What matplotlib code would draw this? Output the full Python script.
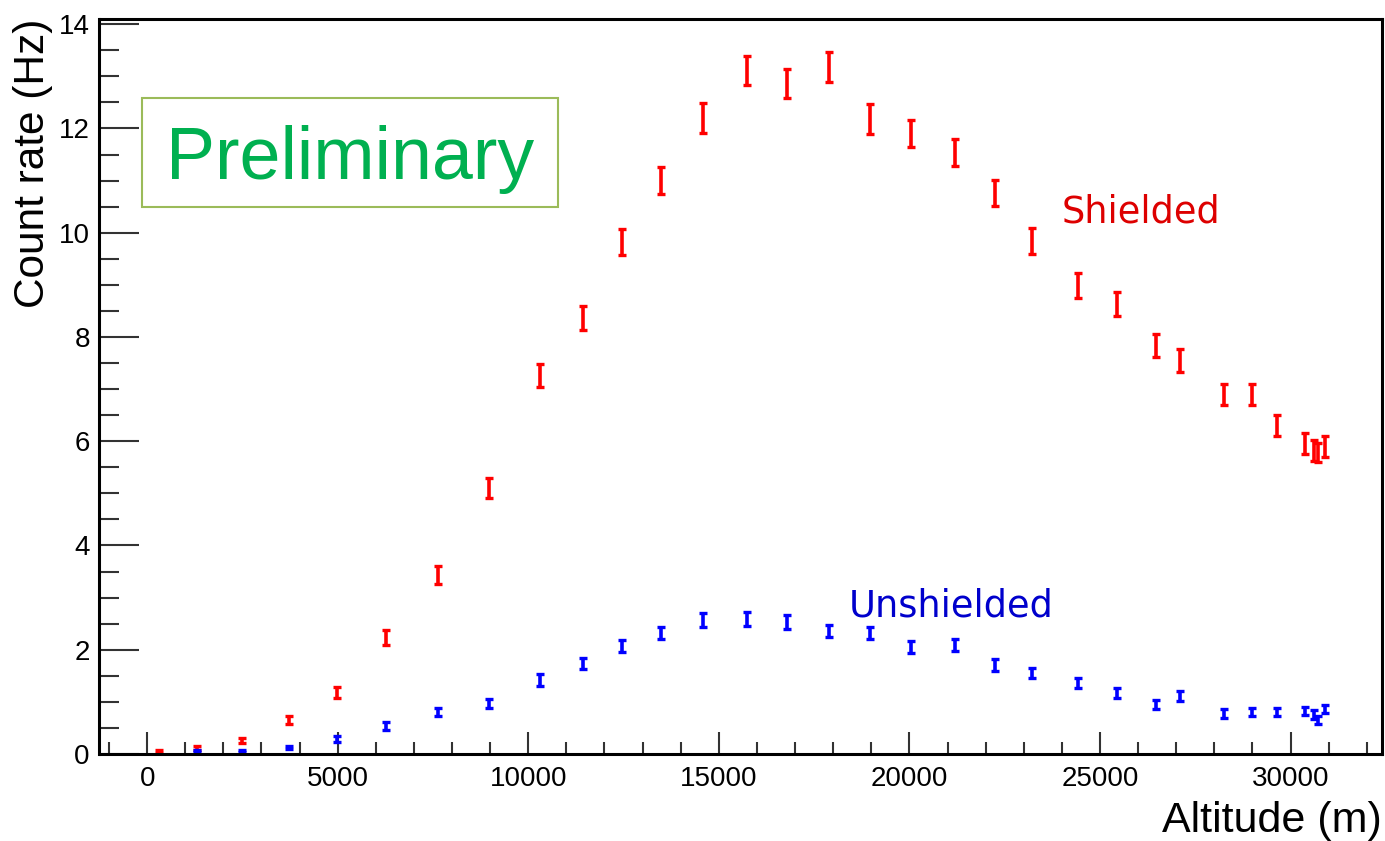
import matplotlib
matplotlib.use("Agg")
import matplotlib.pyplot as plt
from matplotlib.patches import Rectangle
from matplotlib.ticker import MultipleLocator

# Altitude of each measurement (m)
alt_shielded = [300, 1300, 2500, 3730, 4970, 6280, 7620, 8980, 10320, 11430,
                12450, 13470, 14575, 15730, 16780, 17880, 18960, 20030, 21190, 22240,
                23210, 24420, 25440, 26460, 27090, 28250, 28980, 29640, 30370, 30610,
                30710, 30900]
rate_shielded = [0.05, 0.12, 0.26, 0.65, 1.18, 2.24, 3.43, 5.10, 7.27, 8.36,
                 9.82, 11.01, 12.20, 13.11, 12.87, 13.18, 12.18, 11.90, 11.54, 10.77,
                 9.84, 8.98, 8.63, 7.84, 7.54, 6.89, 6.89, 6.31, 5.96, 5.83,
                 5.79, 5.90]
err_shielded = [0.03, 0.04, 0.055, 0.08, 0.11, 0.14, 0.17, 0.19, 0.22, 0.23,
                0.25, 0.26, 0.28, 0.28, 0.28, 0.28, 0.28, 0.26, 0.26, 0.25,
                0.25, 0.24, 0.23, 0.22, 0.22, 0.20, 0.20, 0.20, 0.20, 0.20,
                0.18, 0.20]

alt_unshielded = [1300, 2500, 3730, 4970, 6280, 7620, 8980, 10320, 11430,
                  12450, 13470, 14575, 15730, 16780, 17880, 18960, 20030, 21190, 22240,
                  23210, 24420, 25440, 26460, 27090, 28250, 28980, 29640, 30370, 30610,
                  30710, 30900]
rate_unshielded = [0.06, 0.06, 0.13, 0.29, 0.54, 0.80, 0.97, 1.42, 1.74,
                   2.07, 2.32, 2.57, 2.59, 2.53, 2.36, 2.32, 2.05, 2.09, 1.71,
                   1.55, 1.36, 1.17, 0.95, 1.11, 0.78, 0.81, 0.81, 0.82, 0.76,
                   0.65, 0.86]
err_unshielded = [0.02, 0.02, 0.03, 0.06, 0.08, 0.08, 0.09, 0.11, 0.11,
                  0.12, 0.12, 0.13, 0.13, 0.13, 0.12, 0.12, 0.12, 0.12, 0.11,
                  0.10, 0.10, 0.10, 0.08, 0.09, 0.08, 0.08, 0.08, 0.08, 0.08,
                  0.08, 0.08]

plt.rcParams['font.family'] = ['Liberation Sans', 'DejaVu Sans']

W, H = 1385, 841
fig = plt.figure(figsize=(W / 100, H / 100), dpi=100)
ax = fig.add_axes([99.5 / W, (H - 754) / H, 1282.5 / W, 735 / H])

ax.errorbar(alt_shielded, rate_shielded, yerr=err_shielded, fmt='none',
            ecolor='#ff0000', elinewidth=2.6, capsize=2.6, capthick=2.4)
ax.errorbar(alt_unshielded, rate_unshielded, yerr=err_unshielded, fmt='none',
            ecolor='#0000ff', elinewidth=2.6, capsize=2.6, capthick=2.4)

ax.set_xlim(-1250, 32400)
ax.set_ylim(0, 14.1)

# ROOT-like inward ticks, only on bottom and left
ax.xaxis.set_major_locator(MultipleLocator(5000))
ax.xaxis.set_minor_locator(MultipleLocator(1000))
ax.yaxis.set_major_locator(MultipleLocator(2))
ax.yaxis.set_minor_locator(MultipleLocator(0.5))
ax.tick_params(axis='x', which='major', direction='in', length=16, width=1.5,
               color='#333333', labelsize=20, pad=9)
ax.tick_params(axis='x', which='minor', direction='in', length=8.5, width=1.5,
               color='#333333')
ax.tick_params(axis='y', which='major', direction='in', length=29, width=1.5,
               color='#333333', labelsize=20, pad=7)
ax.tick_params(axis='y', which='minor', direction='in', length=14.5, width=1.5,
               color='#333333')
for s in ax.spines.values():
    s.set_linewidth(2.2)
    s.set_color('black')

ax.set_xlabel('Altitude (m)', fontsize=31, loc='right', labelpad=6)
ax.set_ylabel('Count rate (Hz)', fontsize=30.5, loc='top')
ax.yaxis.set_label_coords(-0.036, 1.0)

ax.text(23990, 10.2, 'Shielded', color='#dd0000', fontsize=26.5,
        family='DejaVu Sans', ha='left', va='baseline')
ax.text(18415, 2.63, 'Unshielded', color='#0000cc', fontsize=26.5,
        family='DejaVu Sans', ha='left', va='baseline')

# "Preliminary" stamp
ax.add_patch(Rectangle((0.0329, 0.7438), 0.3248, 0.1491, transform=ax.transAxes,
                       facecolor='white', edgecolor='#9bbb59', linewidth=1.5, zorder=5))
ax.text(0.1953, 0.7819, 'Preliminary', transform=ax.transAxes, color='#00b050',
        fontsize=53, ha='center', va='baseline', zorder=6)

fig.savefig('out.png', dpi=100, facecolor='white')
